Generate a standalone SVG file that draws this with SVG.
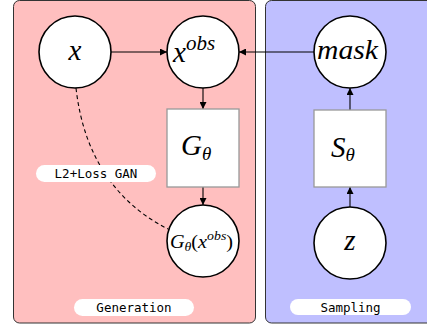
<svg xmlns="http://www.w3.org/2000/svg" width="427" height="327" viewBox="0 0 427 327">
<defs>
<style>
.panel{stroke:#333;stroke-width:1}
.node{fill:#fff;stroke:#000;stroke-width:1.6}
.box{fill:#fff;stroke:#999;stroke-width:1.3}
.math{font-family:"Liberation Serif","DejaVu Serif",serif;font-style:italic;fill:#000}
.up{font-style:normal}
.pill{fill:#fff}
.lbl{font-family:"DejaVu Sans Mono","Liberation Mono",monospace;font-size:12.5px;fill:#000;text-anchor:middle}
.edge{stroke:#000;stroke-width:1.1;fill:none}
</style>
<marker id="arr" viewBox="0 0 10 10" refX="10" refY="5" markerWidth="7" markerHeight="7" markerUnits="userSpaceOnUse" orient="auto">
<path d="M0,0 L10,5 L0,10 z" fill="#000"/>
</marker>
</defs>
<rect class="panel" x="13.5" y="0.5" width="242" height="322.5" rx="6" fill="#ffbfbf"/>
<rect class="panel" x="265.5" y="0.5" width="180" height="322.5" rx="6" fill="#bfbfff"/>
<g id="connectors">
<line class="edge" x1="111" y1="52" x2="167" y2="52" marker-end="url(#arr)"/>
<line class="edge" x1="314" y1="52" x2="239" y2="52" marker-end="url(#arr)"/>
<line class="edge" x1="203" y1="88" x2="203" y2="109" marker-end="url(#arr)"/>
<line class="edge" x1="203" y1="187" x2="203" y2="205" marker-end="url(#arr)"/>
<line class="edge" x1="350" y1="110" x2="350" y2="88" marker-end="url(#arr)"/>
<line class="edge" x1="350" y1="207" x2="350" y2="187" marker-end="url(#arr)"/>
<path class="edge" d="M76,88 C84,160 120,205 168,229" stroke-dasharray="4,3"/>
</g>
<g id="node-x">
<circle class="node" cx="75" cy="52" r="36"/>
<text class="math" x="75" y="60" font-size="29" text-anchor="middle">x</text>
</g>
<g id="node-xobs">
<circle class="node" cx="203" cy="52" r="36"/>
<text class="math" x="173" y="62" font-size="29">x<tspan dy="-12" font-size="21">obs</tspan></text>
</g>
<g id="node-mask">
<circle class="node" cx="350" cy="52" r="36"/>
<text class="math" x="317" y="59" font-size="28" textLength="61" lengthAdjust="spacingAndGlyphs">mask</text>
</g>
<g id="node-G">
<rect class="box" x="167" y="109" width="72" height="78"/>
<text class="math" x="181" y="155" font-size="29">G<tspan dy="5" font-size="19">θ</tspan></text>
</g>
<g id="node-S">
<rect class="box" x="314" y="110" width="72" height="77"/>
<text class="math" x="331" y="157" font-size="29">S<tspan dy="4" font-size="19">θ</tspan></text>
</g>
<g id="node-Gx">
<circle class="node" cx="203" cy="241" r="36"/>
<text class="math" x="170" y="248" font-size="19" textLength="63" lengthAdjust="spacingAndGlyphs">G<tspan dy="3" font-size="13">θ</tspan><tspan dy="-3" class="up">(</tspan>x<tspan dy="-8" font-size="13">obs</tspan><tspan dy="8" class="up">)</tspan></text>
</g>
<g id="node-z">
<circle class="node" cx="350" cy="243" r="36"/>
<text class="math" x="350" y="250" font-size="29" text-anchor="middle">z</text>
</g>
<g id="label-loss">
<rect class="pill" x="36" y="165" width="120" height="17" rx="8.5"/>
<text class="lbl" x="96" y="178">L2+Loss GAN</text>
</g>
<g id="label-generation">
<rect class="pill" x="74" y="299" width="120" height="17" rx="8.5"/>
<text class="lbl" x="134" y="312">Generation</text>
</g>
<g id="label-sampling">
<rect class="pill" x="290" y="299" width="121" height="16" rx="8"/>
<text class="lbl" x="350.5" y="312">Sampling</text>
</g>
</svg>
